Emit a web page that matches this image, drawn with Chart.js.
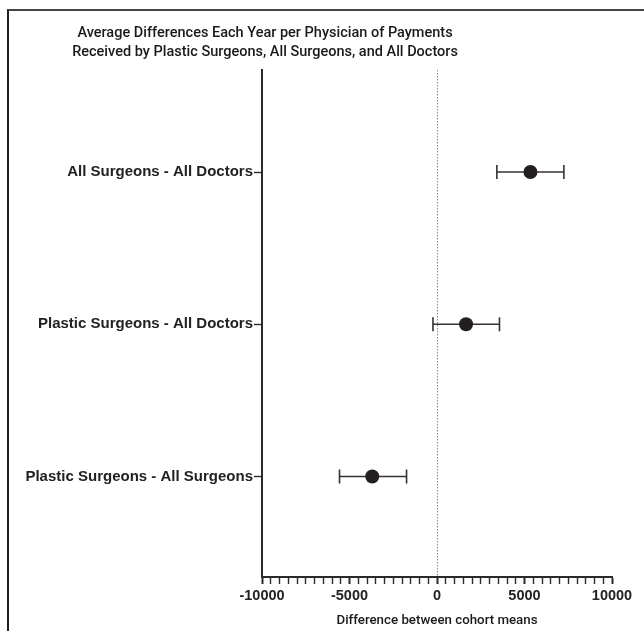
<!DOCTYPE html>
<html>
<head>
<meta charset="utf-8">
<script src="https://cdn.jsdelivr.net/npm/chart.js@4.4.1/dist/chart.umd.min.js"></script>
<style>
  html, body { margin: 0; padding: 0; background: #fff; overflow: hidden; }
  #wrap { position: relative; width: 644px; height: 631px; }
  #frame { position: absolute; left: 7px; top: 9px; width: 660px; height: 640px;
           border-left: 2px solid #1e1e1e; border-top: 2px solid #444; box-sizing: border-box; pointer-events: none; }
  canvas { position: absolute; left: 0; top: 0; }
</style>
</head>
<body>
<div id="wrap">
  <canvas id="chart" width="644" height="631"></canvas>
  <div id="frame"></div>
</div>
<script>
// Comparisons (bottom to top), mean difference and 95% CI bounds
const comparisons = [
  'Plastic Surgeons - All Surgeons',
  'Plastic Surgeons - All Doctors',
  'All Surgeons - All Doctors'
];
const meanDiff = [-3700, 1660, 5340];
const ciLower  = [-5570, -230, 3420];
const ciUpper  = [-1740, 3570, 7250];
const xMajorTicks = [-10000, -5000, 0, 5000, 10000];

const titleLines = [
  'Average Differences Each Year per Physician of Payments',
  'Received by Plastic Surgeons, All Surgeons, and All Doctors'
];
const xTitle = 'Difference between cohort means';

const ink = '#231f20';
const fontFamily = '"Liberation Sans", Arial, Helvetica, sans-serif';
const mediumFamily = 'Roboto, "Liberation Sans", Arial, sans-serif';

// Dotted reference line at zero and horizontal CI whiskers with caps
const intervalPlugin = {
  id: 'intervals',
  afterLayout(chart) {
    // centre the title block over the left part of the figure
    const t = chart.titleBlock;
    if (t) { t.left = 0; t.right = 530; t.width = 530; }
  },
  beforeDatasetsDraw(chart) {
    const { ctx, chartArea, scales: { x, y } } = chart;
    ctx.save();
    // zero line
    const x0 = Math.round(x.getPixelForValue(0)) + 0.5;
    ctx.strokeStyle = '#8a8a8a';
    ctx.lineWidth = 1;
    ctx.setLineDash([1.5, 1.5]);
    ctx.beginPath();
    ctx.moveTo(x0, chartArea.top);
    ctx.lineTo(x0, chartArea.bottom);
    ctx.stroke();
    ctx.setLineDash([]);
    // whiskers
    ctx.strokeStyle = '#333';
    ctx.lineWidth = 1.6;
    const cap = 7;
    comparisons.forEach((_, i) => {
      const py = y.getPixelForValue(i + 1);
      const xl = x.getPixelForValue(ciLower[i]);
      const xu = x.getPixelForValue(ciUpper[i]);
      ctx.beginPath();
      ctx.moveTo(xl, py); ctx.lineTo(xu, py);
      ctx.moveTo(xl, py - cap); ctx.lineTo(xl, py + cap);
      ctx.moveTo(xu, py - cap); ctx.lineTo(xu, py + cap);
      ctx.stroke();
    });
    ctx.restore();
  }
};

new Chart(document.getElementById('chart'), {
  type: 'scatter',
  data: {
    datasets: [{
      data: meanDiff.map((v, i) => ({ x: v, y: i + 1 })),
      pointRadius: 7,
      pointHoverRadius: 7,
      backgroundColor: ink,
      borderColor: ink,
      borderWidth: 0
    }]
  },
  plugins: [intervalPlugin],
  options: {
    responsive: false,
    animation: false,
    events: [],
    layout: { padding: { left: 0, right: 32, top: 0, bottom: 0 } },
    plugins: {
      legend: { display: false },
      tooltip: { enabled: false },
      title: {
        display: true,
        text: titleLines,
        color: '#1a1a1a',
        font: { family: mediumFamily, size: 14.5, weight: 500, lineHeight: 1.31 },
        padding: { top: 23.5, bottom: 8.5 }
      }
    },
    scales: {
      x: {
        type: 'linear',
        min: -10000,
        max: 10000,
        afterFit(scale) { scale.height = 54; },
        border: { display: true, color: '#2a2a2a', width: 2 },
        grid: {
          drawOnChartArea: false,
          drawTicks: true,
          tickLength: 7,
          tickColor: '#2a2a2a',
          tickWidth: ctx => (xMajorTicks.includes(ctx.tick.value) ? 2 : 1.4)
        },
        ticks: {
          stepSize: 500,
          autoSkip: false,
          maxRotation: 0,
          padding: 3,
          color: '#222',
          font: { family: fontFamily, size: 14.5, weight: 'bold' },
          callback: v => (xMajorTicks.includes(v) ? String(v) : '')
        },
        title: {
          display: true,
          text: xTitle,
          color: '#1a1a1a',
          font: { family: mediumFamily, size: 13.3, weight: 500 },
          padding: { top: 3, bottom: 2 }
        }
      },
      y: {
        type: 'linear',
        min: 0.34,
        max: 3.67,
        afterBuildTicks(scale) { scale.ticks = comparisons.map((_, i) => ({ value: i + 1 })); },
        afterFit(scale) { scale.width = 262; },
        border: { display: true, color: '#2a2a2a', width: 2 },
        grid: {
          drawOnChartArea: false,
          drawTicks: true,
          tickLength: 8,
          tickColor: '#2a2a2a',
          tickWidth: 1.4
        },
        ticks: {
          autoSkip: false,
          padding: 1,
          color: '#222',
          font: { family: fontFamily, size: 15, weight: 'bold' },
          callback: v => comparisons[v - 1] || ''
        }
      }
    }
  }
});
</script>
</body>
</html>
